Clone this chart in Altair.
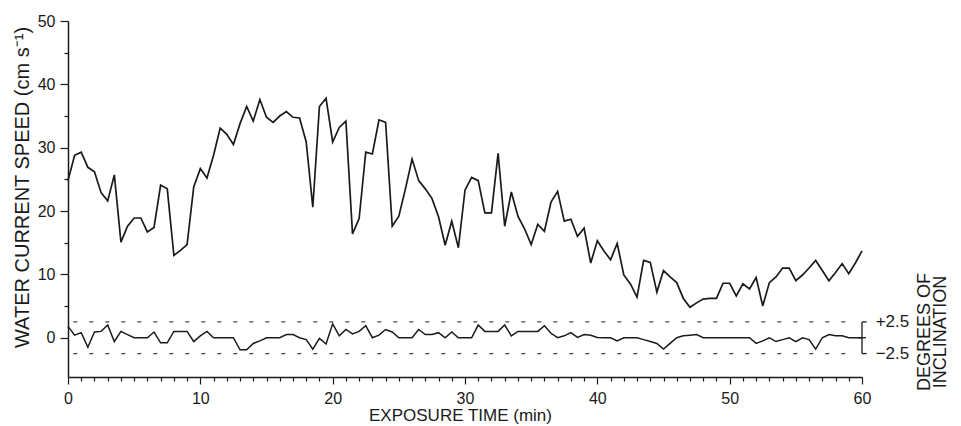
import altair as alt
import pandas as pd

# sampling times (min), one reading every half minute
minutes = [i * 0.5 for i in range(121)]

# water current speed (cm s-1)
speed = [
    24.8, 28.8, 29.3, 26.9, 26.2, 22.9, 21.6, 25.7, 15.1, 17.6,
    18.9, 18.9, 16.7, 17.4, 24.1, 23.5, 13.0, 13.8, 14.7, 23.8,
    26.7, 25.2, 28.8, 33.1, 32.1, 30.5, 33.8, 36.5, 34.2, 37.6,
    34.8, 34.0, 35.0, 35.7, 34.8, 34.7, 30.9, 20.6, 36.5, 37.8,
    30.9, 33.2, 34.2, 16.4, 18.8, 29.3, 29.0, 34.4, 34.0, 17.6,
    19.2, 23.5, 28.2, 24.8, 23.5, 22.0, 19.1, 14.6, 18.4, 14.2,
    23.3, 25.3, 24.8, 19.7, 19.7, 29.1, 17.6, 23.0, 19.2, 17.2,
    14.7, 17.9, 16.8, 21.4, 23.1, 18.4, 18.7, 16.0, 17.3, 11.8,
    15.3, 13.7, 12.3, 14.9, 9.9, 8.5, 6.4, 12.2, 11.9, 7.2,
    10.6, 9.6, 8.7, 6.2, 4.8, 5.5, 6.1, 6.2, 6.2, 8.6,
    8.6, 6.6, 8.5, 7.7, 9.5, 5.0, 8.7, 9.6, 11.0, 11.0,
    9.0, 9.9, 11.0, 12.2, 10.6, 9.0, 10.3, 11.7, 10.1, 11.8,
    13.7,
]

# inclination (degrees), drawn on the same vertical scale around 0
inclination = [
    1.8, 0.4, 0.8, -1.5, 0.9, 1.0, 2.0, -0.6, 1.0, 0.5,
    0.0, 0.0, 0.0, 0.9, -0.8, -0.8, 1.0, 1.0, 1.0, -0.6,
    0.3, 1.0, 0.0, 0.0, 0.0, 0.0, -1.9, -1.9, -0.9, -0.5,
    0.0, 0.0, 0.0, 0.5, 0.5, 0.0, -0.3, -1.8, -0.1, -1.0,
    2.2, 0.3, 1.3, 0.6, 1.0, 1.9, 0.0, 0.4, 1.3, 0.9,
    0.0, 0.0, 0.0, 1.3, 0.5, 0.5, 0.8, 0.0, 0.9, 0.0,
    0.0, 0.0, 2.0, 1.0, 1.0, 1.0, 2.0, 0.3, 1.0, 1.0,
    1.0, 1.0, 1.9, 0.7, 0.0, 0.3, 0.8, 0.05, 0.5, 0.4,
    0.05, 0.0, 0.0, -0.5, 0.0, 0.0, 0.0, -0.3, -0.6, -0.9,
    -1.8, -0.9, 0.0, 0.3, 0.4, 0.5, 0.0, 0.0, 0.0, 0.0,
    0.0, 0.0, 0.0, 0.0, -0.9, -0.5, 0.0, -0.6, -0.3, 0.0,
    -0.6, 0.0, -0.3, -1.8, 0.0, 0.5, 0.3, 0.3, 0.0, 0.0,
    0.0,
]

x_ticks = list(range(0, 61))
y_ticks = list(range(0, 51, 5))
limits = [2.5, -2.5]
limit_labels = ["+2.5", "\u22122.5"]

X_TITLE = "EXPOSURE TIME (min)"
Y_TITLE = "WATER CURRENT SPEED (cm s\u207b\u00b9)"
FONT = "Liberation Sans"
INK = "#1a1a1a"

df = pd.DataFrame({"t": minutes, "speed": speed, "incl": inclination})
lim_df = pd.DataFrame({"y": limits, "label": limit_labels,
                       "x0": [0.4, 0.4], "x1": [59.5, 59.5],
                       "xb": [60, 60], "xe": [60.35, 60.35]})
zero_df = pd.DataFrame({"y": [0.0], "x0": [59.7], "x1": [60.3]})
bracket_df = pd.DataFrame({"x": [60], "y0": [min(limits)], "y1": [max(limits)]})

xscale = alt.Scale(domain=[0, 60], nice=False, zero=False)
yscale = alt.Scale(domain=[-6.2, 50], nice=False, zero=False)

xaxis = alt.Axis(
    values=x_ticks,
    labelExpr="datum.value % 10 === 0 ? datum.label : ''",
    tickSize={"condition": {"test": "datum.value % 10 === 0", "value": 7}, "value": 4},
    grid=False, labelFlush=False, labelOverlap=False,
    labelFontSize=16, labelPadding=6,
    titleFontSize=17, titleFontWeight="normal",
    titleX=392, titleY=38, titleBaseline="middle",
)
yaxis = alt.Axis(
    values=y_ticks,
    labelExpr="datum.value % 10 === 0 ? datum.label : ''",
    tickSize={"condition": {"test": "datum.value % 10 === 0", "value": 8}, "value": 4},
    grid=False, labelOverlap=False,
    labelFontSize=16, labelPadding=5,
    titleFontSize=20, titleFontWeight="normal",
    titleAngle=270, titleX=-46, titleY=166, titleAlign="center", titleBaseline="middle",
)


def xq(field):
    return alt.X(field, scale=xscale, axis=xaxis, title=X_TITLE)


def yq(field):
    return alt.Y(field, scale=yscale, axis=yaxis, title=Y_TITLE)


speed_line = alt.Chart(df).mark_line(color=INK, strokeWidth=1.7).encode(
    x=xq("t:Q"), y=yq("speed:Q"),
)

incl_line = alt.Chart(df).mark_line(color=INK, strokeWidth=1.5).encode(
    x=xq("t:Q"), y=yq("incl:Q"),
)

limit_rules = alt.Chart(lim_df).mark_rule(color="#444", strokeWidth=1.3, strokeDash=[4, 12]).encode(
    x=xq("x0:Q"), x2="x1", y=yq("y:Q"),
)

bracket = alt.Chart(bracket_df).mark_rule(color=INK, strokeWidth=1.3).encode(
    x=xq("x:Q"), y=yq("y0:Q"), y2="y1",
)
bracket_ends = alt.Chart(lim_df).mark_rule(color=INK, strokeWidth=1.3).encode(
    x=xq("xb:Q"), x2="xe", y=yq("y:Q"),
)
bracket_zero = alt.Chart(zero_df).mark_rule(color=INK, strokeWidth=1.3).encode(
    x=xq("x0:Q"), x2="x1", y=yq("y:Q"),
)

limit_text = alt.Chart(lim_df).mark_text(
    align="left", baseline="middle", dx=9, fontSize=17, font=FONT, color=INK
).encode(
    x=xq("xe:Q"), y=yq("y:Q"), text="label:N",
)

side_title_1 = alt.Chart(bracket_df).mark_text(
    angle=270, align="center", baseline="middle", fontSize=18, font=FONT, color=INK
).encode(
    x=alt.value(857),
    y=alt.Y(datum=0.9, scale=yscale, axis=yaxis, title=Y_TITLE),
    text=alt.value("DEGREES OF"),
)
side_title_2 = alt.Chart(bracket_df).mark_text(
    angle=270, align="center", baseline="middle", fontSize=18, font=FONT, color=INK
).encode(
    x=alt.value(873),
    y=alt.Y(datum=0.9, scale=yscale, axis=yaxis, title=Y_TITLE),
    text=alt.value("INCLINATION"),
)

chart = alt.layer(
    limit_rules, bracket, bracket_ends, bracket_zero,
    speed_line, incl_line, limit_text, side_title_1, side_title_2,
).properties(
    width=794,
    height=356,
    autosize=alt.AutoSizeParams(type="none"),
    padding={"left": 60, "top": 13, "right": 91, "bottom": 47},
).configure_view(
    stroke=None
).configure_axis(
    domainColor=INK, domainWidth=1.5, tickColor=INK, tickWidth=1.2,
    labelColor=INK, titleColor=INK, labelFont=FONT, titleFont=FONT,
    labelOverlap=False,
)

chart.save("out.html", embed_options={"renderer": "svg", "actions": False})
